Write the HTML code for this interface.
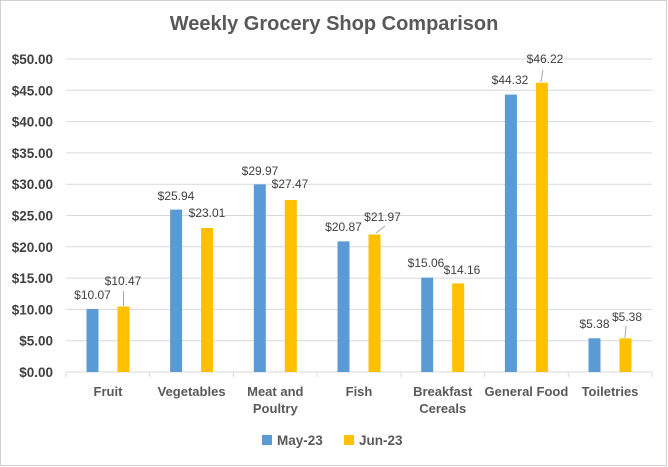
<!DOCTYPE html>
<html><head><meta charset="utf-8"><style>
body{margin:0;background:#fff;}
svg{display:block;font-family:"Liberation Sans",sans-serif;}
.yl{font-size:13.5px;font-weight:bold;fill:#404040;text-anchor:end;}
.cl{font-size:13px;font-weight:bold;fill:#595959;text-anchor:middle;}
.dl{font-size:12px;fill:#404040;text-anchor:middle;}
</style></head><body>
<svg width="668" height="467" viewBox="0 0 668 467">
<rect x="0.5" y="0.5" width="666" height="465" fill="#fff" stroke="#d0d0d0"/>
<text x="334" y="30" text-anchor="middle" font-size="20" font-weight="bold" fill="#595959">Weekly Grocery Shop Comparison</text>
<g stroke="#d9d9d9" stroke-width="1">
<line x1="66" x2="652" y1="59" y2="59"/><line x1="66" x2="652" y1="90.3" y2="90.3"/>
<line x1="66" x2="652" y1="121.6" y2="121.6"/><line x1="66" x2="652" y1="152.9" y2="152.9"/>
<line x1="66" x2="652" y1="184.2" y2="184.2"/><line x1="66" x2="652" y1="215.5" y2="215.5"/>
<line x1="66" x2="652" y1="246.8" y2="246.8"/><line x1="66" x2="652" y1="278.1" y2="278.1"/>
<line x1="66" x2="652" y1="309.4" y2="309.4"/><line x1="66" x2="652" y1="340.7" y2="340.7"/>
<line x1="66" x2="652" y1="372" y2="372"/>
<line x1="66" x2="66" y1="372" y2="377"/><line x1="149.7" x2="149.7" y1="372" y2="377"/>
<line x1="233.4" x2="233.4" y1="372" y2="377"/><line x1="317.1" x2="317.1" y1="372" y2="377"/>
<line x1="400.9" x2="400.9" y1="372" y2="377"/><line x1="484.6" x2="484.6" y1="372" y2="377"/>
<line x1="568.3" x2="568.3" y1="372" y2="377"/><line x1="652" x2="652" y1="372" y2="377"/>
</g>
<g>
<text class="yl" x="53" y="64">$50.00</text><text class="yl" x="53" y="95.3">$45.00</text>
<text class="yl" x="53" y="126.6">$40.00</text><text class="yl" x="53" y="157.9">$35.00</text>
<text class="yl" x="53" y="189.2">$30.00</text><text class="yl" x="53" y="220.5">$25.00</text>
<text class="yl" x="53" y="251.8">$20.00</text><text class="yl" x="53" y="283.1">$15.00</text>
<text class="yl" x="53" y="314.4">$10.00</text><text class="yl" x="53" y="345.7">$5.00</text>
<text class="yl" x="53" y="377">$0.00</text>
</g>
<g fill="#5b9bd5">
<rect x="86.5" y="309" width="12" height="63"/>
<rect x="170.1" y="209.6" width="12" height="162.4"/>
<rect x="253.8" y="184.4" width="12" height="187.6"/>
<rect x="337.5" y="241.4" width="12" height="130.6"/>
<rect x="421.2" y="277.7" width="12" height="94.3"/>
<rect x="504.9" y="94.6" width="12" height="277.4"/>
<rect x="588.5" y="338.3" width="12" height="33.7"/>
</g>
<g fill="#ffc000">
<rect x="117.5" y="306.5" width="12" height="65.5"/>
<rect x="201.1" y="228" width="12" height="144"/>
<rect x="284.8" y="200" width="12" height="172"/>
<rect x="368.5" y="234.5" width="12" height="137.5"/>
<rect x="452.2" y="283.4" width="12" height="88.6"/>
<rect x="535.9" y="82.7" width="12" height="289.3"/>
<rect x="619.5" y="338.3" width="12" height="33.7"/>
</g>
<g stroke="#a6a6a6" stroke-width="1">
<line x1="123.5" y1="291" x2="123.5" y2="306"/>
<line x1="376" y1="233" x2="385" y2="226"/>
<line x1="543" y1="70" x2="541" y2="82"/>
<line x1="626" y1="326" x2="625" y2="338"/>
</g>
<g class="dl">
<text class="dl" x="92.5" y="299">$10.07</text><text class="dl" x="123" y="285">$10.47</text>
<text class="dl" x="176" y="200">$25.94</text><text class="dl" x="207" y="217">$23.01</text>
<text class="dl" x="260" y="175">$29.97</text><text class="dl" x="290" y="188">$27.47</text>
<text class="dl" x="343.5" y="231">$20.87</text><text class="dl" x="382.5" y="221">$21.97</text>
<text class="dl" x="426" y="267">$15.06</text><text class="dl" x="462" y="274">$14.16</text>
<text class="dl" x="510" y="84">$44.32</text><text class="dl" x="545" y="63">$46.22</text>
<text class="dl" x="594.5" y="328">$5.38</text><text class="dl" x="627" y="321">$5.38</text>
</g>
<g>
<text class="cl" x="108" y="396">Fruit</text>
<text class="cl" x="191.6" y="396">Vegetables</text>
<text class="cl" x="275.3" y="396">Meat and</text><text class="cl" x="275.3" y="413">Poultry</text>
<text class="cl" x="359" y="396">Fish</text>
<text class="cl" x="442.7" y="396">Breakfast</text><text class="cl" x="442.7" y="413">Cereals</text>
<text class="cl" x="526.4" y="396">General Food</text>
<text class="cl" x="610" y="396">Toiletries</text>
</g>
<rect x="262" y="435" width="10" height="10" fill="#5b9bd5"/>
<text x="277" y="445" font-size="13.5" font-weight="bold" fill="#595959">May-23</text>
<rect x="344" y="435" width="10" height="10" fill="#ffc000"/>
<text x="359" y="445" font-size="13.5" font-weight="bold" fill="#595959">Jun-23</text>
</svg>
</body></html>
